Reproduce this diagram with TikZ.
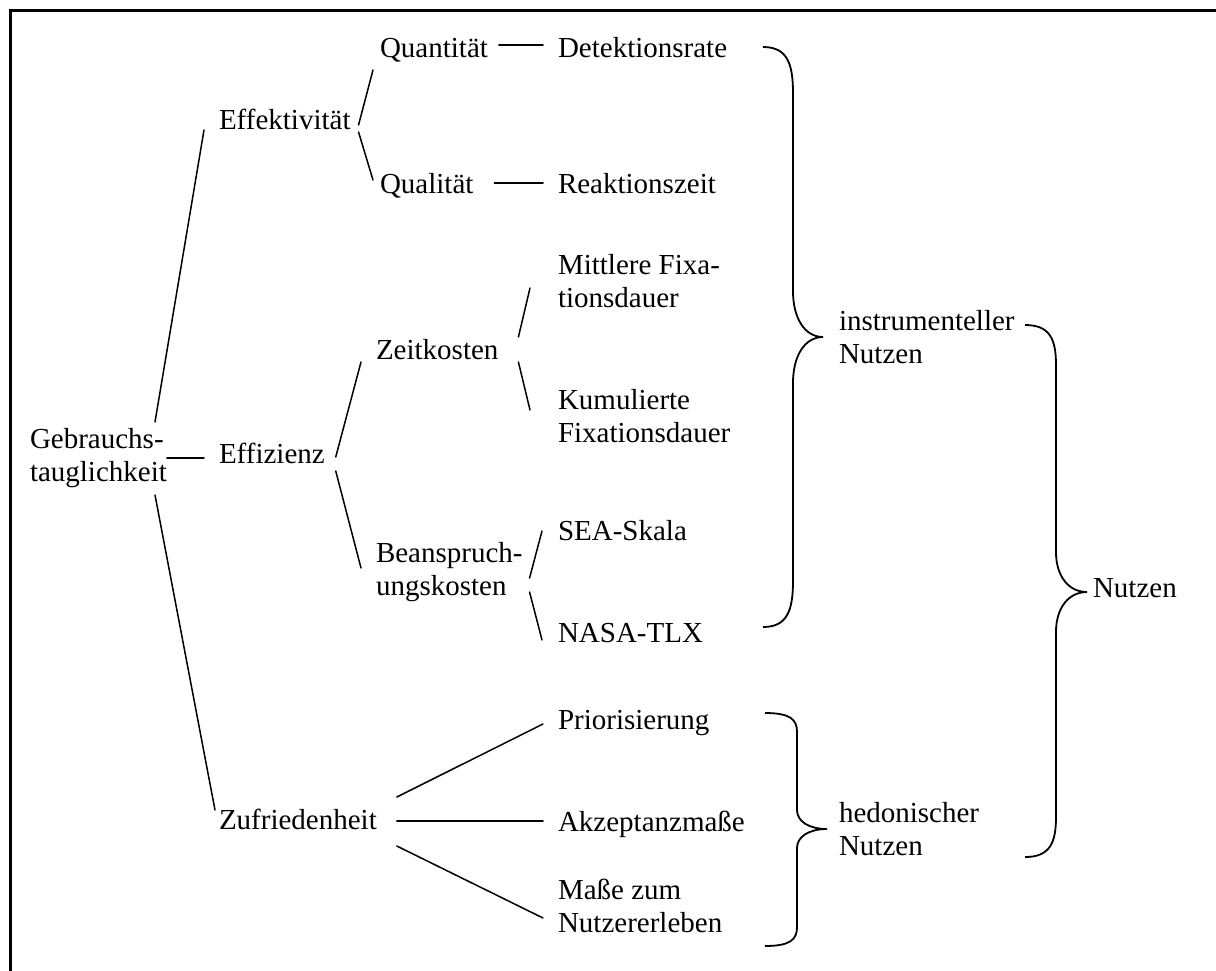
\documentclass[tikz,border=0pt]{standalone}
\usepackage{fontspec}
\setmainfont{Liberation Serif}
\usetikzlibrary{calc}
\newcommand{\twoline}[2]{\begin{tabular}[t]{@{}l@{}}#1\\#2\end{tabular}}
% xe xv xt yt ym yb c
\newcommand{\drawbrace}[7]{%
  \draw[brc] (#1,#4) .. controls ({#1+0.8*(#2-#1)},#4) and (#2,{#4+0.35*#7}) .. (#2,{#4+#7})
    -- (#2,{#5-#7}) .. controls (#2,{#5-0.4*#7}) and ({#2+0.4*(#3-#2)},#5) .. (#3,#5)
    .. controls ({#2+0.4*(#3-#2)},#5) and (#2,{#5+0.4*#7}) .. (#2,{#5+#7})
    -- (#2,{#6-#7}) .. controls (#2,{#6-0.35*#7}) and ({#1+0.8*(#2-#1)},#6) .. (#1,#6);}
\tikzset{
  lbl/.style={font=\fontsize{29}{33}\selectfont, inner sep=0pt, outer sep=0pt, anchor=base west},
  conn/.style={line width=1.5pt, line cap=round},
  brc/.style={line width=1.8pt},
  frame/.style={line width=2.5pt}
}
\begin{document}
\begin{tikzpicture}[x=1pt,y=-1pt]
\useasboundingbox (0,0) rectangle (1216,970);
\clip (0,0) rectangle (1216,970);
\fill[white] (0,0) rectangle (1216,970);
\draw[frame] (10.5,10.5) rectangle (1260,1010);

% nodes
\node[lbl] (geb)  at (30,448)  {\twoline{Gebrauchs-}{tauglichkeit}};
\node[lbl] (effk) at (219,129) {Effektivität};
\node[lbl] (effz) at (219,463) {Effizienz};
\node[lbl] (zuf)  at (219,829) {Zufriedenheit};
\node[lbl] (quan) at (380,57)  {Quantität};
\node[lbl] (qual) at (380,193) {Qualität};
\node[lbl] (zeit) at (376,359) {Zeitkosten};
\node[lbl] (bean) at (376,562) {\twoline{Beanspruch-}{ungskosten}};
\node[lbl] (det)  at (558,57)  {Detektionsrate};
\node[lbl] (rea)  at (558,193) {Reaktionszeit};
\node[lbl] (mit)  at (558,274) {\twoline{Mittlere Fixa-}{tionsdauer}};
\node[lbl] (kum)  at (558,409) {\twoline{Kumulierte}{Fixationsdauer}};
\node[lbl] (sea)  at (558,540) {SEA-Skala};
\node[lbl] (nasa) at (558,642) {NASA-TLX};
\node[lbl] (prio) at (558,729) {Priorisierung};
\node[lbl] (akz)  at (558,831) {Akzeptanzmaße};
\node[lbl] (mas)  at (558,899) {\twoline{Maße zum}{Nutzererleben}};
\node[lbl] (instr) at (839,330) {\twoline{instrumenteller}{Nutzen}};
\node[lbl] (hed)  at (839,822) {\twoline{hedonischer}{Nutzen}};
\node[lbl] (nutz) at (1093,597) {Nutzen};

% connectors
\draw[conn] ($(geb.base west)+(125,-26)$) -- ($(effk.base west)+(-15,1)$);
\draw[conn] ($(geb.base east)+(0,10)$) -- ($(effz.base west)+(-15,-5)$);
\draw[conn] ($(geb.base west)+(125,47)$) -- ($(zuf.base west)+(-4,-19)$);
\draw[conn] ($(effk.base east)+(8,-4)$) -- ($(quan.base west)+(-7,13)$);
\draw[conn] ($(effk.base east)+(8,3)$) -- ($(qual.base west)+(-7,-13)$);
\draw[conn] ($(quan.base east)+(11,-12)$) -- ($(det.base west)+(-15,-12)$);
\draw[conn] ($(qual.base east)+(21,-10)$) -- ($(rea.base west)+(-15,-10)$);
\draw[conn] ($(effz.base east)+(11,-6)$) -- ($(zeit.base west)+(-15,3)$);
\draw[conn] ($(effz.base east)+(11,8)$) -- ($(bean.base west)+(-15,6)$);
\draw[conn] ($(zeit.base east)+(20,-22)$) -- ($(mit.base west)+(-28,14)$);
\draw[conn] ($(zeit.base east)+(20,3)$) -- ($(kum.base west)+(-28,1)$);
\draw[conn] ($(bean.base east)+(7,16)$) -- ($(sea.base west)+(-16,-9)$);
\draw[conn] ($(bean.base east)+(7,30)$) -- ($(nasa.base west)+(-16,-2)$);
\draw[conn] ($(zuf.base east)+(20,-32)$) -- ($(prio.base west)+(-15,-5)$);
\draw[conn] ($(zuf.base east)+(20,-8)$) -- ($(akz.base west)+(-15,-10)$);
\draw[conn] ($(zuf.base east)+(20,17)$) -- ($(mas.base west)+(-15,19)$);

% braces
\drawbrace{763}{793}{823}{47}{337}{627}{46}
\drawbrace{1025}{1056}{1087}{325}{592}{857}{40}
\drawbrace{765}{797}{827}{713}{829}{946}{19}
\end{tikzpicture}
\end{document}
